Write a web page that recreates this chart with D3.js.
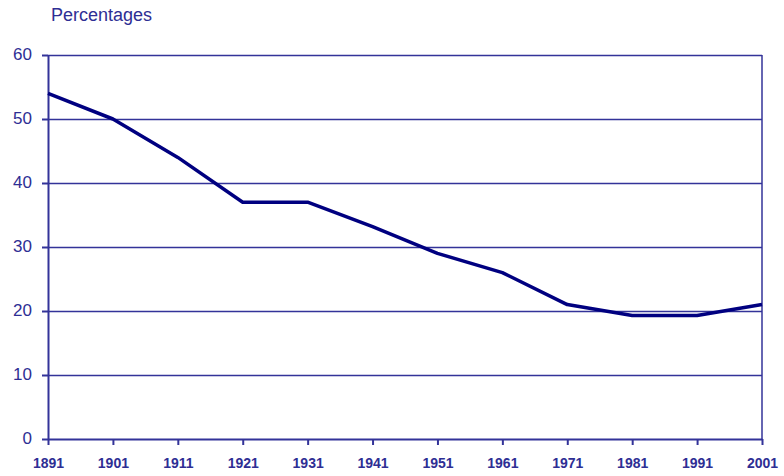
<!DOCTYPE html>
<html>
<head>
<meta charset="utf-8">
<script src="https://cdn.jsdelivr.net/npm/d3@7"></script>
<style>
  body { margin: 0; background: #fff; }
  text { font-family: "Liberation Sans", Arial, sans-serif; fill: #2e2e94; }
</style>
</head>
<body>
<div id="chart"></div>
<script>
const years = [1891, 1901, 1911, 1921, 1931, 1941, 1951, 1961, 1971, 1981, 1991, 2001];
const percentages = [54, 50, 44, 37, 37, 33.2, 29, 26, 21, 19.3, 19.3, 21];
const yTicks = [0, 10, 20, 30, 40, 50, 60];

const width = 784, height = 476;
const margin = { top: 55, right: 22, bottom: 37, left: 48 };

const svg = d3.select('#chart')
  .append('svg')
  .attr('width', width)
  .attr('height', height);

const x = d3.scaleLinear()
  .domain([1891, 2001])
  .range([margin.left, width - margin.right]);

const y = d3.scaleLinear()
  .domain([0, 60])
  .range([height - margin.bottom, margin.top]);

const axisColor = '#333399';

// Gridlines
svg.append('g')
  .selectAll('line')
  .data(yTicks.filter(d => d > 0))
  .enter()
  .append('line')
  .attr('x1', margin.left)
  .attr('x2', width - margin.right)
  .attr('y1', d => y(d) + 0.5)
  .attr('y2', d => y(d) + 0.5)
  .attr('stroke', axisColor)
  .attr('stroke-width', 1.5);

// Right border
svg.append('line')
  .attr('x1', width - margin.right).attr('x2', width - margin.right)
  .attr('y1', margin.top).attr('y2', height - margin.bottom)
  .attr('stroke', axisColor).attr('stroke-width', 1.5);

// Y axis
const yAxis = svg.append('g')
  .attr('transform', `translate(${margin.left},0)`)
  .call(d3.axisLeft(y).tickValues(yTicks).tickSize(6).tickPadding(10).tickSizeOuter(0));

// X axis
const xAxis = svg.append('g')
  .attr('transform', `translate(0,${height - margin.bottom})`)
  .call(d3.axisBottom(x).tickValues(years).tickFormat(d3.format('d')).tickSize(6).tickPadding(12).tickSizeOuter(0));

[yAxis, xAxis].forEach(g => {
  g.attr('font-family', null).attr('font-size', null);
  g.selectAll('path, line').attr('stroke', axisColor).attr('stroke-width', 2);
  g.selectAll('text').attr('fill', '#2e2e94');
});
yAxis.selectAll('text').style('font-size', '17px').attr('dy', '0.25em');
xAxis.selectAll('text').style('font-size', '14px').style('font-weight', 'bold').attr('dy', '0.75em');

// Data line
const line = d3.line()
  .x((d, i) => x(years[i]))
  .y(d => y(d));

svg.append('path')
  .datum(percentages)
  .attr('fill', 'none')
  .attr('stroke', '#000080')
  .attr('stroke-width', 3.5)
  .attr('stroke-linejoin', 'round')
  .attr('d', line);

// Title
svg.append('text')
  .attr('x', 51)
  .attr('y', 21)
  .style('font-size', '18px')
  .text('Percentages');
</script>
</body>
</html>
